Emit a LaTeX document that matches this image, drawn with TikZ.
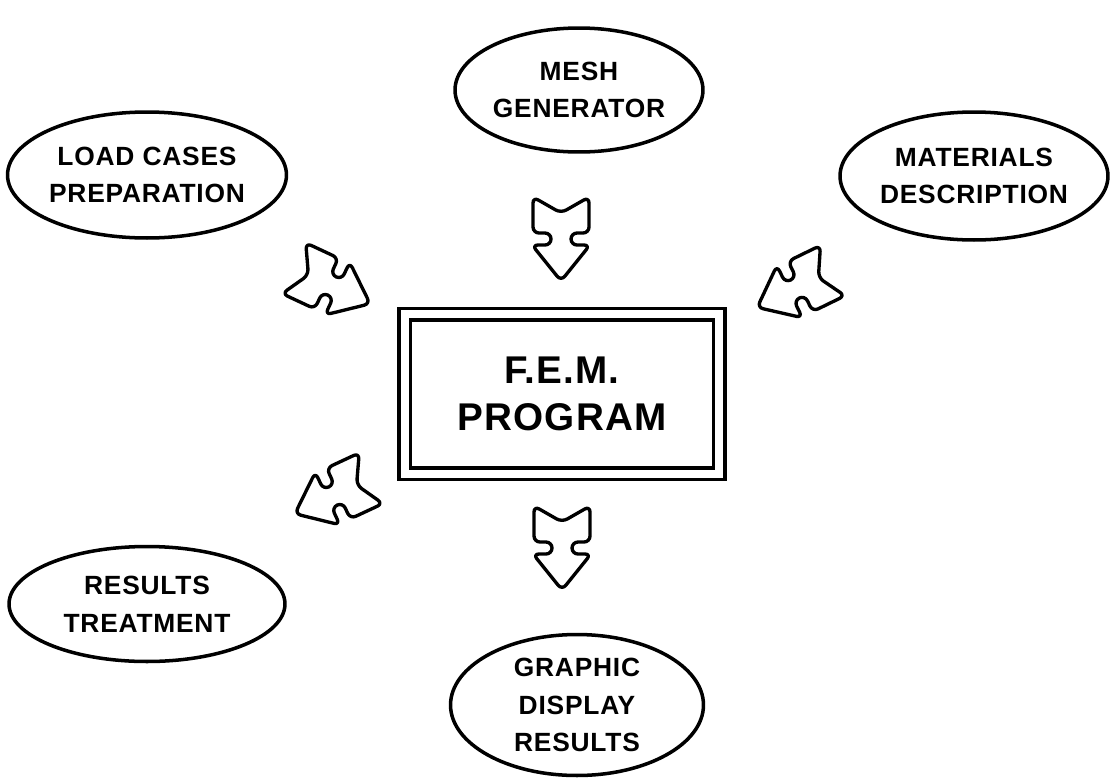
\documentclass[tikz,border=0pt]{standalone}
\usepackage{fontspec}
\setmainfont{Liberation Sans}
\newfontfamily\lblfont[LetterSpace=3]{Liberation Sans}
\usetikzlibrary{shapes.geometric}

\tikzset{
  bubble/.style={ellipse, draw, line width=2pt, inner sep=0pt, align=center,
    font=\lblfont\bfseries\fontsize{15}{21.5}\selectfont},
  prog/.style={rectangle, draw, double, double distance=0.16cm, line width=0.07cm,
    align=center, font=\lblfont\bfseries\fontsize{22}{27}\selectfont},
  % fletched arrow, drawn along +x and centred on the pic origin
  fatarrow/.pic={
    \draw[x=0.02cm, y=0.02cm, line width=1.9pt, rounded corners=0.12cm, line join=round]
      (-26,0) -- (-42,28) -- (-6,28) -- (-6,10) -- (6,10) -- (6,29) -- (42,0)
      -- (6,-29) -- (6,-10) -- (-6,-10) -- (-6,-28) -- (-42,-28) -- cycle;
  }
}

\begin{document}
\begin{tikzpicture}[x=0.02cm, y=-0.02cm]

\useasboundingbox (0,0) rectangle (1116,778);

% The program in the middle
\node [prog, minimum width=6.3cm, minimum height=3.2cm] (fem) at (562,394) {F.E.M.\\PROGRAM};

% Modules round it
\node [bubble, minimum width=4.96cm, minimum height=2.48cm] (mesh) at (579,90) {MESH\\GENERATOR};
\node [bubble, minimum width=5.58cm, minimum height=2.52cm] (load) at (147,175) {LOAD CASES\\PREPARATION};
\node [bubble, minimum width=5.36cm, minimum height=2.56cm] (mat) at (974,176) {MATERIALS\\DESCRIPTION};
\node [bubble, minimum width=5.52cm, minimum height=2.3cm] (res) at (147,604) {RESULTS\\TREATMENT};
\node [bubble, minimum width=5.06cm, minimum height=2.82cm] (graph) at (577,705) {GRAPHIC\\DISPLAY\\RESULTS};

% Arrows into and out of the program
\pic [rotate=-90] at (561,239) {fatarrow};
\pic [rotate=-25] at (332,286) {fatarrow};
\pic [rotate=-154] at (795,289) {fatarrow};
\pic [rotate=-155] at (333,496) {fatarrow};
\pic [rotate=-90] at (562,548) {fatarrow};

\end{tikzpicture}
\end{document}
